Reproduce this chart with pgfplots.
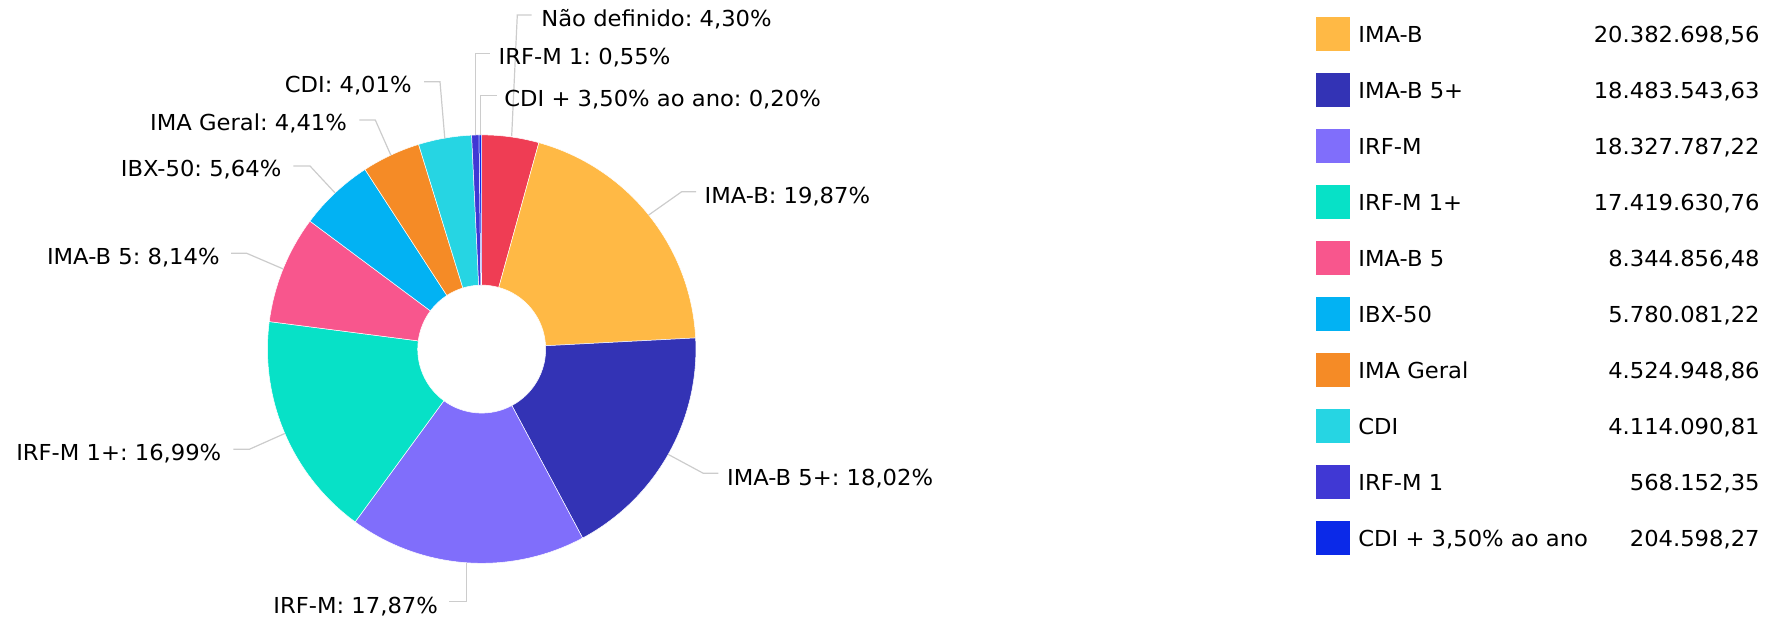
\documentclass[border=0pt]{standalone}
\usepackage{fontspec}
\setmainfont{DejaVu Sans}[FakeStretch=1.03]
\usepackage{pgfplots}
\pgfplotsset{compat=1.18}
\definecolor{cNao}{RGB}{239,61,84}
\definecolor{cIMAB}{RGB}{255,185,69}
\definecolor{cIMABfp}{RGB}{51,51,181}
\definecolor{cIRFM}{RGB}{128,110,251}
\definecolor{cIRFMop}{RGB}{7,225,199}
\definecolor{cIMABf}{RGB}{248,86,141}
\definecolor{cIBX}{RGB}{2,178,243}
\definecolor{cIMAG}{RGB}{245,139,38}
\definecolor{cCDI}{RGB}{38,213,227}
\definecolor{cIRFMo}{RGB}{64,56,212}
\definecolor{cCDIp}{RGB}{11,41,232}
\definecolor{leader}{RGB}{204,204,204}
\tikzset{lbl/.style={font=\fontsize{11pt}{13pt}\selectfont\frenchspacing, inner sep=0pt, text=black},
  ldr/.style={draw=leader, line width=0.6pt}}
\begin{document}
\frenchspacing
\begin{tikzpicture}
\begin{axis}[
  scale only axis, width=892pt, height=310.5pt,
  xmin=0, xmax=1784, ymin=0, ymax=621, y dir=reverse,
  hide axis, clip=false,
]
\path (axis cs:0,0) rectangle (axis cs:1784,621);
% donut slices, clockwise from the top (percent / colour)
\gdef\cum{0}
\foreach \p/\c in {4.30/cNao, 19.87/cIMAB, 18.02/cIMABfp, 17.87/cIRFM, 16.99/cIRFMop, 8.14/cIMABf, 5.64/cIBX, 4.41/cIMAG, 4.01/cCDI, 0.55/cIRFMo, 0.20/cCDIp}{%
  \pgfmathsetmacro\sa{90-3.6*\cum}%
  \pgfmathsetmacro\ea{90-3.6*(\cum+\p)}%
  \pgfmathsetmacro\nc{\cum+\p}\xdef\cum{\nc}%
  \edef\temp{\noexpand\fill[\c, draw=white, line width=0.25pt] (axis cs:481.7,349.1) ++(\sa:107.1pt) arc[start angle=\sa, end angle=\ea, radius=107.1pt] -- ++(\ea:-75.1pt) arc[start angle=\ea, end angle=\sa, radius=32pt] -- cycle;}%
  \temp
}
% leader lines
\draw[ldr] (axis cs:511.7,136) -- (axis cs:517.3,15) -- (axis cs:531.7,15);
\draw[ldr] (axis cs:475.3,135) -- (axis cs:475.3,53.3) -- (axis cs:490,53.3);
\draw[ldr] (axis cs:480.3,135) -- (axis cs:480.3,95.7) -- (axis cs:496.7,95.7);
\draw[ldr] (axis cs:444.8,138.5) -- (axis cs:440,81.7) -- (axis cs:424,81.7);
\draw[ldr] (axis cs:390.8,155.1) -- (axis cs:375.3,120) -- (axis cs:359.3,120);
\draw[ldr] (axis cs:335.1,193) -- (axis cs:310,166) -- (axis cs:293.3,166);
\draw[ldr] (axis cs:283.1,268.9) -- (axis cs:246.7,253.3) -- (axis cs:231,253.3);
\draw[ldr] (axis cs:284.8,433.5) -- (axis cs:249.3,449.3) -- (axis cs:233.3,449.3);
\draw[ldr] (axis cs:466.8,562.8) -- (axis cs:466.8,601.7) -- (axis cs:449,601.7);
\draw[ldr] (axis cs:668.2,454.4) -- (axis cs:703.3,473.3) -- (axis cs:718.3,473.3);
\draw[ldr] (axis cs:648.7,215) -- (axis cs:681.7,191.7) -- (axis cs:696,191.7);
% slice labels
\node[lbl, anchor=base west] at (axis cs:541,26.7) {Não definido: 4,30\%};
\node[lbl, anchor=base west] at (axis cs:498.3,64.3) {IRF-M 1: 0,55\%};
\node[lbl, anchor=base west] at (axis cs:504,106) {CDI + 3,50\% ao ano: 0,20\%};
\node[lbl, anchor=base east] at (axis cs:412,92.3) {CDI: 4,01\%};
\node[lbl, anchor=base east] at (axis cs:347.3,130.7) {IMA Geral: 4,41\%};
\node[lbl, anchor=base east] at (axis cs:281.7,176.7) {IBX-50: 5,64\%};
\node[lbl, anchor=base east] at (axis cs:220,264.3) {IMA-B 5: 8,14\%};
\node[lbl, anchor=base east] at (axis cs:221.7,460) {IRF-M 1+: 16,99\%};
\node[lbl, anchor=base east] at (axis cs:438.3,613.3) {IRF-M: 17,87\%};
\node[lbl, anchor=base west] at (axis cs:726.7,485) {IMA-B 5+: 18,02\%};
\node[lbl, anchor=base west] at (axis cs:704.3,203.3) {IMA-B: 19,87\%};
% legend
\foreach \c/\lab/\val [count=\k from 0] in {cIMAB/IMA-B/{20.382.698,56}, cIMABfp/IMA-B 5+/{18.483.543,63}, cIRFM/IRF-M/{18.327.787,22}, cIRFMop/IRF-M 1+/{17.419.630,76}, cIMABf/IMA-B 5/{8.344.856,48}, cIBX/IBX-50/{5.780.081,22}, cIMAG/IMA Geral/{4.524.948,86}, cCDI/CDI/{4.114.090,81}, cIRFMo/IRF-M 1/{568.152,35}, cCDIp/{CDI + 3,50\% ao ano}/{204.598,27}}{%
  \pgfmathsetmacro\yt{33.7+56*\k-17}%
  \pgfmathsetmacro\ybt{33.7+56*\k+17}%
  \pgfmathsetmacro\yb{33.7+56*\k+9}%
  \edef\temp{\noexpand\fill[\c] (axis cs:1316,\yt) rectangle (axis cs:1350,\ybt);
    \noexpand\node[lbl, anchor=base west] at (axis cs:1358,\yb) {\unexpanded\expandafter{\lab}};
    \noexpand\node[lbl, anchor=base east] at (axis cs:1760,\yb) {\unexpanded\expandafter{\val}};}%
  \temp
}
\end{axis}
\end{tikzpicture}
\end{document}
